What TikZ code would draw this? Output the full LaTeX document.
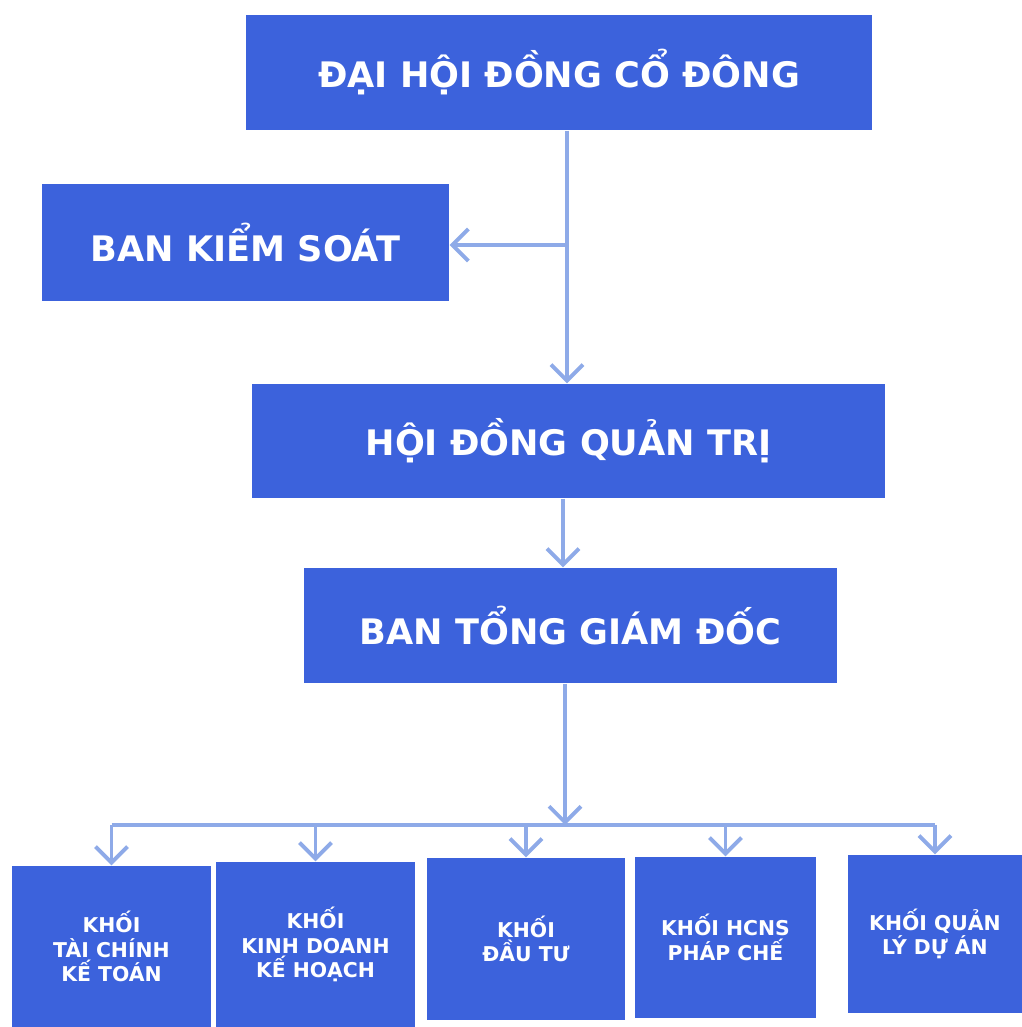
\documentclass[tikz,border=0pt]{standalone}
\usepackage{fontspec}
\setmainfont{DejaVu Sans}
\usepackage{xcolor}
\usepackage{tikz}
\usetikzlibrary{arrows.meta, positioning, calc}
\definecolor{boxblue}{RGB}{60, 98, 220}
\definecolor{lineblue}{RGB}{142, 170, 232}

\tikzset{
  unit/.style={fill=boxblue, draw=none, inner sep=0pt, align=center,
    text=white, font=\bfseries\fontsize{10}{12}\selectfont},
  subunit/.style={unit, font=\bfseries\fontsize{5.8}{6.9}\selectfont},
  wire/.style={draw=lineblue, line width=1.1pt},
  link/.style={wire, -{Straight Barb[length=1.6mm, width=3.2mm, line width=1.1pt]}}
}

\begin{document}
\begin{tikzpicture}
% Canvas
\fill[white] (0,0) rectangle (10.22,10.27);
\useasboundingbox (0,0) rectangle (10.22,10.27);

% Main levels
\node[unit, minimum width=6.26cm, minimum height=1.15cm] (dhdcd) at (5.59,9.545) {ĐẠI HỘI ĐỒNG CỔ ĐÔNG};
\node[unit, minimum width=4.07cm, minimum height=1.17cm] (bks) at (2.455,7.845) {BAN KIỂM SOÁT};
\node[unit, minimum width=6.33cm, minimum height=1.14cm] (hdqt) at (5.685,5.86) {HỘI ĐỒNG QUẢN TRỊ};
\node[unit, minimum width=5.33cm, minimum height=1.15cm] (btgd) at (5.705,4.015) {BAN TỔNG GIÁM ĐỐC};

% Divisions
\node[subunit, minimum width=1.99cm, minimum height=1.61cm] (k1) at (1.115,0.805) {KHỐI\\TÀI CHÍNH\\KẾ TOÁN};
\node[subunit, minimum width=1.99cm, minimum height=1.65cm] (k2) at (3.155,0.825) {KHỐI\\KINH DOANH\\KẾ HOẠCH};
\node[subunit, minimum width=1.98cm, minimum height=1.62cm] (k3) at (5.26,0.88) {KHỐI\\ĐẦU TƯ};
\node[subunit, minimum width=1.81cm, minimum height=1.61cm] (k4) at (7.255,0.895) {KHỐI HCNS\\PHÁP CHẾ};
\node[subunit, minimum width=1.74cm, minimum height=1.58cm] (k5) at (9.35,0.93) {KHỐI QUẢN\\LÝ DỰ ÁN};

% Connectors
\coordinate (spine) at (5.67,7.82);
\coordinate (mid) at (5.63,5.0);
\coordinate (bus) at (5.65,2.02);
\draw[link] (dhdcd.south -| spine) -- (hdqt.north -| spine);
\draw[link] (spine) -- (spine -| bks.east);
\draw[link] (hdqt.south -| mid) -- (btgd.north -| mid);
\draw[link] (btgd.south -| bus) -- (bus);
\draw[wire] (k1.north |- bus) -- (k5.north |- bus);
\foreach \n in {k1,k2,k3,k4,k5}
    \draw[link] (\n.north |- bus) -- (\n.north);
\end{tikzpicture}
\end{document}
